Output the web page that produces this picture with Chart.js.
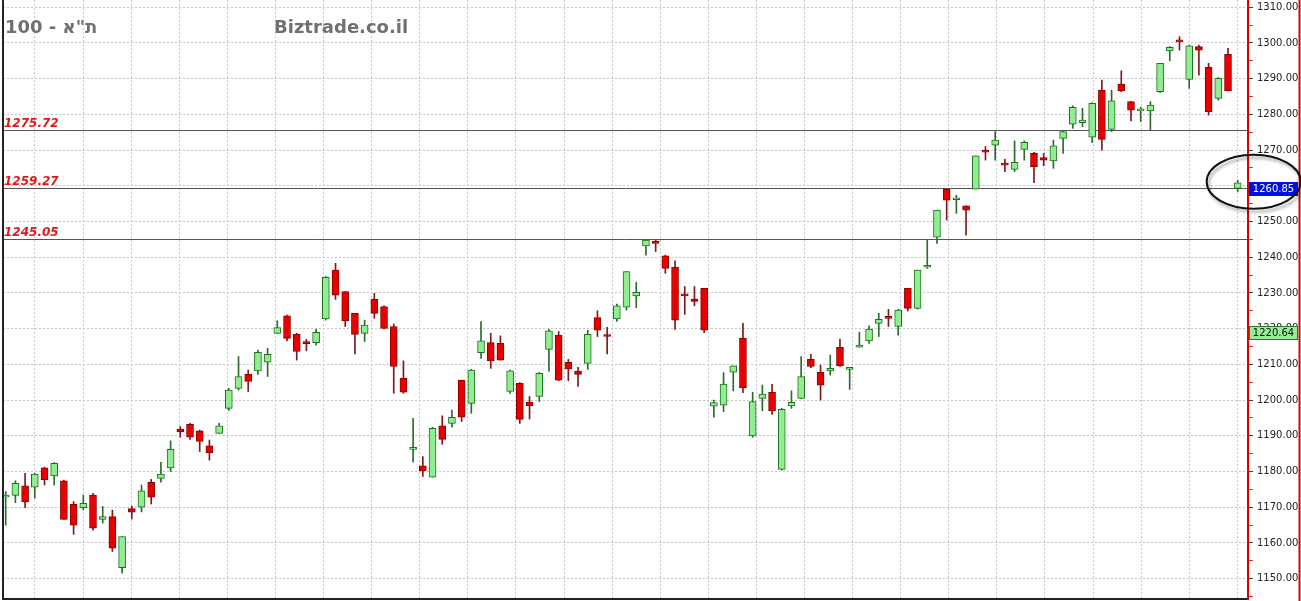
<!DOCTYPE html>
<html>
<head>
<meta charset="utf-8">
<script src="https://cdn.jsdelivr.net/npm/chart.js@4.4.0/dist/chart.umd.min.js"></script>
<style>
    html, body { margin: 0; padding: 0; background: #fff; }
    #wrap { width: 1301px; height: 601px; position: relative; }
</style>
</head>
<body>
<div id="wrap"><canvas id="myChart"></canvas></div>
<script>

// daily candles (oldest first)
var opens = [1172.8, 1173.3, 1176.0, 1175.6, 1181.0, 1178.8, 1177.4, 1170.8, 1169.9, 1173.4,
    1166.6, 1167.4, 1153.1, 1169.6, 1170.0, 1177.0, 1178.1, 1181.0, 1191.9, 1193.2,
    1191.4, 1187.2, 1190.7, 1197.7, 1203.3, 1207.3, 1208.2, 1210.6, 1218.7, 1223.6,
    1218.4, 1216.4, 1216.1, 1222.7, 1236.4, 1230.4, 1224.3, 1218.7, 1228.2, 1226.2,
    1220.6, 1206.1, 1186.2, 1181.6, 1178.4, 1192.8, 1193.5, 1205.6, 1199.1, 1213.3,
    1216.1, 1215.9, 1202.4, 1204.7, 1199.4, 1201.0, 1214.2, 1218.2, 1210.6, 1208.1,
    1210.3, 1223.1, 1218.2, 1222.7, 1226.0, 1229.2, 1243.2, 1244.3, 1240.4, 1237.2,
    1229.7, 1228.3, 1231.3, 1198.3, 1198.6, 1207.8, 1217.3, 1190.0, 1200.5, 1202.2,
    1180.6, 1198.4, 1200.5, 1211.4, 1207.8, 1208.2, 1214.8, 1208.6, 1214.8, 1216.6,
    1221.5, 1223.0, 1220.6, 1231.3, 1225.7, 1237.2, 1245.6, 1259.0, 1256.1, 1254.4,
    1259.1, 1269.6, 1271.4, 1266.0, 1264.6, 1270.2, 1269.1, 1267.9, 1267.0, 1273.3,
    1277.3, 1277.7, 1273.6, 1286.8, 1275.8, 1288.4, 1283.6, 1281.0, 1281.0, 1286.4,
    1297.8, 1300.6, 1289.8, 1299.0, 1293.2, 1284.5, 1296.8, 1259.3];

var highs = [1174.4, 1177.4, 1179.5, 1179.5, 1181.2, 1182.5, 1177.6, 1171.6, 1173.4, 1173.9,
    1170.2, 1169.2, 1161.8, 1170.3, 1176.2, 1177.8, 1182.6, 1188.6, 1192.6, 1193.5,
    1191.6, 1188.8, 1193.5, 1203.3, 1212.2, 1208.4, 1214.0, 1214.5, 1222.2, 1223.8,
    1218.7, 1217.0, 1219.8, 1234.6, 1238.3, 1230.4, 1224.3, 1222.4, 1229.9, 1226.4,
    1221.3, 1211.0, 1194.9, 1184.2, 1192.4, 1195.6, 1197.2, 1205.6, 1208.6, 1222.0,
    1218.7, 1218.0, 1208.4, 1204.9, 1201.0, 1207.7, 1219.8, 1219.2, 1211.4, 1209.2,
    1219.6, 1225.0, 1220.4, 1226.9, 1236.0, 1233.0, 1244.8, 1244.8, 1240.6, 1239.0,
    1231.8, 1231.8, 1231.3, 1200.0, 1207.7, 1209.6, 1221.5, 1202.2, 1204.2, 1204.4,
    1197.7, 1202.6, 1212.2, 1212.8, 1209.8, 1212.6, 1217.1, 1208.9, 1219.0, 1220.8,
    1224.3, 1225.4, 1225.4, 1231.3, 1236.4, 1244.8, 1253.2, 1259.0, 1257.4, 1254.4,
    1268.4, 1271.0, 1275.2, 1267.4, 1272.6, 1272.6, 1269.4, 1269.1, 1272.8, 1275.4,
    1282.4, 1281.7, 1283.3, 1289.6, 1286.8, 1292.2, 1283.6, 1282.0, 1283.6, 1294.3,
    1299.0, 1301.8, 1299.4, 1299.4, 1294.3, 1290.3, 1298.5, 1261.6];

var lows = [1165.0, 1171.3, 1169.9, 1172.5, 1176.2, 1176.2, 1166.6, 1162.4, 1169.2, 1163.6,
    1165.6, 1157.6, 1151.5, 1166.7, 1168.7, 1170.9, 1177.0, 1180.0, 1189.6, 1189.0,
    1185.6, 1183.2, 1190.7, 1197.1, 1202.8, 1202.4, 1207.2, 1206.6, 1218.7, 1216.6,
    1211.2, 1213.8, 1215.4, 1222.4, 1228.2, 1220.6, 1212.9, 1216.4, 1222.9, 1219.9,
    1201.9, 1201.9, 1182.6, 1178.6, 1178.4, 1187.6, 1192.4, 1194.0, 1196.3, 1211.7,
    1208.9, 1211.2, 1201.9, 1193.5, 1194.7, 1199.6, 1208.0, 1205.4, 1205.4, 1203.8,
    1208.6, 1217.8, 1212.9, 1222.0, 1225.2, 1225.9, 1240.6, 1241.6, 1235.5, 1219.8,
    1224.0, 1226.4, 1218.9, 1195.2, 1196.8, 1202.6, 1202.1, 1189.6, 1197.0, 1196.0,
    1180.4, 1197.7, 1200.5, 1209.1, 1200.0, 1207.0, 1209.4, 1203.0, 1214.8, 1215.9,
    1217.8, 1220.6, 1218.2, 1225.0, 1225.5, 1236.9, 1243.9, 1250.4, 1252.3, 1246.2,
    1259.1, 1267.2, 1267.2, 1264.0, 1264.0, 1267.2, 1260.9, 1265.6, 1264.9, 1269.1,
    1276.1, 1276.6, 1272.1, 1270.0, 1275.2, 1286.4, 1278.2, 1278.0, 1275.6, 1286.1,
    1295.0, 1298.0, 1287.3, 1291.0, 1279.8, 1284.0, 1286.6, 1258.4];

var closes = [1173.4, 1176.7, 1171.5, 1179.3, 1177.7, 1182.3, 1166.6, 1165.0, 1171.1, 1164.1,
    1167.4, 1158.5, 1161.8, 1168.6, 1174.6, 1172.8, 1179.3, 1186.2, 1191.1, 1189.6,
    1188.4, 1185.3, 1192.8, 1202.8, 1206.6, 1205.2, 1213.4, 1212.8, 1220.3, 1217.3,
    1213.6, 1215.8, 1219.0, 1234.4, 1229.4, 1222.2, 1218.4, 1221.0, 1224.3, 1220.1,
    1209.4, 1202.2, 1186.5, 1180.2, 1192.1, 1189.0, 1195.2, 1195.2, 1208.4, 1216.6,
    1211.0, 1211.2, 1208.2, 1194.6, 1198.4, 1207.5, 1219.4, 1205.6, 1208.7, 1207.2,
    1218.4, 1219.6, 1217.8, 1226.4, 1236.0, 1230.2, 1244.8, 1243.9, 1236.9, 1222.4,
    1229.2, 1227.6, 1219.6, 1199.3, 1204.5, 1209.6, 1203.5, 1199.6, 1201.7, 1197.0,
    1197.4, 1199.4, 1206.6, 1209.4, 1204.2, 1208.9, 1209.6, 1208.8, 1215.4, 1219.9,
    1222.6, 1222.9, 1225.2, 1225.7, 1236.4, 1237.4, 1253.2, 1256.0, 1256.3, 1253.2,
    1268.4, 1269.4, 1272.8, 1265.8, 1266.6, 1272.2, 1265.4, 1267.2, 1271.2, 1275.2,
    1282.0, 1278.4, 1283.1, 1273.0, 1283.8, 1286.6, 1281.2, 1281.3, 1282.6, 1294.3,
    1298.8, 1300.3, 1299.2, 1298.0, 1280.8, 1290.1, 1286.6, 1260.85];

// support / resistance lines and price tags
var levels = [1275.72, 1259.27, 1245.05];
var lastPrice = 1260.85;
var avgPrice = 1220.64;

// right axis labels
var yLabels = [1150, 1160, 1170, 1180, 1190, 1200, 1210, 1220, 1230,
    1240, 1250, 1260, 1270, 1280, 1290, 1300, 1310];

var title = '100 - ת"א';
var site = 'Biztrade.co.il';

const UP_FILL = '#90ee90', UP_LINE = '#1f6f1f';
const DN_FILL = '#e80000', DN_LINE = '#8a0000';

const overlay = {
    id: 'overlay',
    beforeDatasetsDraw(chart) {
        const { ctx, chartArea: a, scales: { y } } = chart;
        ctx.save();

        // titles
        ctx.fillStyle = '#707070';
        ctx.font = 'bold 18px "DejaVu Sans"';
        ctx.textBaseline = 'alphabetic';
        ctx.fillText(title, a.left + 2, 33);
        ctx.fillText(site, 274, 33);

        // level lines
        levels.forEach(v => {
            const py = Math.round(y.getPixelForValue(v)) + 0.5;
            ctx.strokeStyle = '#555';
            ctx.lineWidth = 1;
            ctx.beginPath();
            ctx.moveTo(a.left, py);
            ctx.lineTo(a.right, py);
            ctx.stroke();
            ctx.fillStyle = '#e01818';
            ctx.font = 'italic bold 12px "DejaVu Sans"';
            ctx.fillText(v.toFixed(2), a.left + 1, py - 4);
        });
        ctx.restore();
    },
    afterDraw(chart) {
        const { ctx, chartArea: a, scales: { x, y } } = chart;
        ctx.save();

        // left frame line
        ctx.strokeStyle = '#222';
        ctx.lineWidth = 2;
        ctx.beginPath();
        ctx.moveTo(a.left, 0);
        ctx.lineTo(a.left, a.bottom);
        ctx.stroke();

        // right red frame
        ctx.strokeStyle = '#e00000';
        ctx.beginPath();
        ctx.moveTo(chart.width - 1.5, 0);
        ctx.lineTo(chart.width - 1.5, chart.height);
        ctx.stroke();

        // price tags
        const tag = (v, top, fill, line, txt) => {
            const py = Math.round(y.getPixelForValue(v)) + top;
            const w = chart.width - a.right - 4;
            ctx.fillStyle = fill;
            ctx.fillRect(a.right + 1, py, w, 14);
            if (line) {
                ctx.strokeStyle = line;
                ctx.lineWidth = 1;
                ctx.strokeRect(a.right + 1.5, py + 0.5, w - 1, 13);
            }
            ctx.fillStyle = txt;
            ctx.font = '10px "DejaVu Sans"';
            ctx.textBaseline = 'middle';
            ctx.textAlign = 'center';
            ctx.fillText(v.toFixed(2), a.right + 1 + w / 2, py + 7.5);
        };
        tag(avgPrice, 0, '#98ec98', '#2a7a2a', '#111');
        tag(lastPrice, -1, '#0010e0', null, '#fff');

        // ellipse round the last candle
        const cx = x.getPixelForValue(closes.length - 1) + 16;
        const cy = y.getPixelForValue(lastPrice) - 1;
        ctx.shadowColor = 'rgba(0,0,0,0.35)';
        ctx.shadowBlur = 3;
        ctx.shadowOffsetX = 2;
        ctx.shadowOffsetY = 3;
        ctx.strokeStyle = '#111';
        ctx.lineWidth = 2;
        ctx.beginPath();
        ctx.ellipse(cx, cy, 47, 27, 0, 0, Math.PI * 2);
        ctx.stroke();
        ctx.restore();
    }
};

const up = opens.map((o, i) => closes[i] >= o);

const bodies = {
    label: 'body',
    data: opens.map((o, i) => ({ x: i, y: [o, closes[i]] })),
    backgroundColor: up.map(u => u ? UP_FILL : DN_FILL),
    borderColor: up.map(u => u ? UP_LINE : DN_LINE),
    borderWidth: 1,
    borderSkipped: false,
    barThickness: 7,
    minBarLength: 2,
    grouped: false,
    order: 1
};

const wicks = {
    label: 'wick',
    data: lows.map((l, i) => ({ x: i, y: [l, highs[i]] })),
    backgroundColor: up.map(u => u ? '#2d6b2d' : '#7a1c1c'),
    borderWidth: 0,
    barThickness: 1,
    grouped: false,
    order: 2
};

myChart = new Chart(document.getElementById('myChart'), {
    type: 'bar',
    data: { datasets: [bodies, wicks] },
    options: {
        responsive: true,
        maintainAspectRatio: false,
        animation: false,
        layout: { padding: { left: 3, top: 0, right: 0, bottom: 0 } },
        plugins: { legend: { display: false }, tooltip: { enabled: false } },
        scales: {
            x: {
                type: 'linear',
                min: -0.278,
                max: 128.062,
                offset: false,
                grid: { offset: false, color: '#c8c8c8', drawTicks: false },
                border: { color: '#222', width: 2, dash: [2, 2] },
                ticks: { display: false },
                afterBuildTicks: s => {
                    const t = [];
                    for (let k = 0; k < 26; k++) t.push({ value: 3.02 + k * 4.9576 });
                    s.ticks = t;
                },
                afterFit: s => { s.height = 2; }
            },
            y: {
                position: 'right',
                min: 1144.3,
                max: 1312.04,
                grid: {
                    color: c => (c.tick && yLabels.includes(c.tick.value)) ? '#c4c4c4' : 'rgba(0,0,0,0)',
                    tickColor: c => (c.tick && yLabels.includes(c.tick.value)) ? '#444' : '#e03030',
                    tickLength: 5,
                    tickBorderDash: []
                },
                border: { color: '#e00000', width: 2, dash: [2, 2] },
                ticks: {
                    padding: 4,
                    color: '#222',
                    font: { family: 'DejaVu Sans', size: 10 },
                    // the label under the last-price tag is hidden
                    callback: v => (yLabels.includes(v) && Math.abs(v - lastPrice) > 3) ? v.toFixed(2) : ''
                },
                afterBuildTicks: s => {
                    s.ticks = yLabels.map(v => v - 5).concat(yLabels)
                        .sort((p, q) => p - q).map(v => ({ value: v }));
                },
                afterFit: s => {
                    s.width = 53;
                    s.paddingTop = 0;
                    s.paddingBottom = 0;
                }
            }
        }
    },
    plugins: [overlay]
});
</script>
</body>
</html>
